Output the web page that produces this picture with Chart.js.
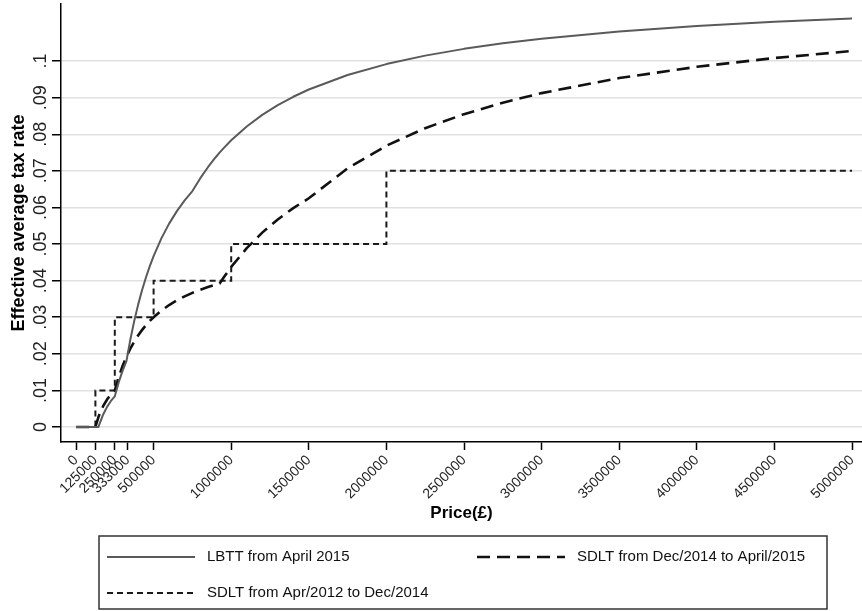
<!DOCTYPE html>
<html>
<head>
<meta charset="utf-8">
<script src="https://cdn.jsdelivr.net/npm/chart.js@4.4.1/dist/chart.umd.min.js"></script>
<style>
  html, body { margin: 0; padding: 0; background: #ffffff; }
  canvas { display: block; }
</style>
</head>
<body>
<canvas id="chart" width="862" height="611"></canvas>
<script>
// Property prices (£) at which the average rates are given
const prices = [0, 125000, 145000, 150000, 175000, 200000, 225000, 250000, 275000, 300000,
  325000, 350000, 375000, 400000, 425000, 450000, 475000, 500000, 550000, 600000, 650000,
  700000, 750000, 800000, 850000, 900000, 925000, 950000, 1000000, 1100000, 1200000, 1300000, 1400000,
  1500000, 1750000, 2000000, 2250000, 2500000, 2750000, 3000000, 3500000, 4000000, 4500000, 5000000];

// LBTT from April 2015: effective average rate
const lbttRates = [0, 0, 0, 0.000667, 0.003429, 0.0055, 0.007111, 0.0084, 0.012182, 0.015333,
  0.018, 0.023857, 0.028933, 0.033375, 0.037294, 0.040778, 0.043895, 0.0467, 0.051545, 0.055583, 0.059,
  0.061929, 0.064467, 0.067938, 0.071, 0.073722, 0.074973, 0.076158, 0.07835, 0.082136, 0.085292, 0.087962, 0.09025,
  0.092233, 0.0962, 0.099175, 0.101489, 0.10334, 0.104855, 0.106117, 0.1081, 0.109588, 0.110744, 0.11167];

// SDLT from Dec/2014 to April/2015: effective average rate
const sdlt2014Rates = [0, 0, 0.002759, 0.003333, 0.005714, 0.0075, 0.008889, 0.01, 0.013636, 0.016667,
  0.019231, 0.021429, 0.023333, 0.025, 0.026471, 0.027778, 0.028947, 0.03, 0.031818, 0.033333, 0.034615,
  0.035714, 0.036667, 0.0375, 0.038235, 0.038889, 0.039189, 0.040789, 0.04375, 0.048864, 0.053125, 0.056731, 0.059821,
  0.0625, 0.070714, 0.076875, 0.081667, 0.0855, 0.088636, 0.09125, 0.095357, 0.098438, 0.100833, 0.10275];

// SDLT from Apr/2012 to Dec/2014: slab rate reached at each threshold
const sdlt2012Thresholds = [0, 125000, 250000, 500000, 1000000, 2000000, 5000000];
const sdlt2012Rates = [0, 0.01, 0.03, 0.04, 0.05, 0.07, 0.07];

const seriesNames = ['LBTT from April 2015', 'SDLT from Dec/2014 to April/2015', 'SDLT from Apr/2012 to Dec/2014'];

const xTickValues = [0, 125000, 250000, 333000, 500000, 1000000, 1500000, 2000000, 2500000,
  3000000, 3500000, 4000000, 4500000, 5000000];
const yTickValues = [0, 0.01, 0.02, 0.03, 0.04, 0.05, 0.06, 0.07, 0.08, 0.09, 0.1];
const yTickLabels = ['0', '.01', '.02', '.03', '.04', '.05', '.06', '.07', '.08', '.09', '.1'];

const FONT = '"Liberation Sans", Arial, Helvetica, sans-serif';
Chart.defaults.font.family = FONT;

const toPoints = (xs, ys) => xs.map((x, i) => ({ x: x, y: ys[i] }));

// Boxed two-column legend under the plot
const boxLegend = {
  id: 'boxLegend',
  afterDraw(chart) {
    const ctx = chart.ctx;
    const box = { left: 99, top: 536, right: 827, bottom: 609 };
    const items = [
      { ds: 0, x: 107, y: 557 },
      { ds: 1, x: 477, y: 557 },
      { ds: 2, x: 107, y: 593 }
    ];
    const sampleLen = 88;
    ctx.save();
    ctx.strokeStyle = '#333333';
    ctx.lineWidth = 1.5;
    ctx.setLineDash([]);
    ctx.strokeRect(box.left, box.top, box.right - box.left, box.bottom - box.top);
    items.forEach(it => {
      const ds = chart.data.datasets[it.ds];
      ctx.beginPath();
      ctx.setLineDash(ds.borderDash || []);
      ctx.strokeStyle = ds.borderColor;
      ctx.lineWidth = ds.borderWidth;
      ctx.moveTo(it.x, it.y);
      ctx.lineTo(it.x + sampleLen, it.y);
      ctx.stroke();
      ctx.setLineDash([]);
      ctx.fillStyle = '#111111';
      ctx.font = '15px ' + FONT;
      ctx.textBaseline = 'middle';
      ctx.textAlign = 'left';
      ctx.fillText(ds.label, it.x + sampleLen + 12, it.y);
    });
    ctx.restore();
  }
};

new Chart(document.getElementById('chart'), {
  type: 'line',
  data: {
    datasets: [
      {
        label: seriesNames[0],
        data: toPoints(prices, lbttRates),
        borderColor: '#5a5a5a',
        borderWidth: 2,
        borderJoinStyle: 'round',
        pointRadius: 0,
        tension: 0
      },
      {
        label: seriesNames[1],
        data: toPoints(prices, sdlt2014Rates),
        borderColor: '#111111',
        borderWidth: 2.6,
        borderDash: [13, 7],
        pointRadius: 0,
        tension: 0
      },
      {
        label: seriesNames[2],
        data: toPoints(sdlt2012Thresholds, sdlt2012Rates),
        borderColor: '#1a1a1a',
        borderWidth: 2,
        borderDash: [6, 4],
        stepped: true,
        pointRadius: 0,
        tension: 0
      }
    ]
  },
  options: {
    responsive: false,
    animation: false,
    devicePixelRatio: 1,
    layout: { padding: { top: 4, left: 0, right: 0, bottom: 86 } },
    plugins: {
      legend: { display: false },
      tooltip: { enabled: false }
    },
    scales: {
      x: {
        type: 'linear',
        min: -96650,
        max: 5064400,
        afterBuildTicks: s => { s.ticks = xTickValues.map(v => ({ value: v })); },
        afterFit: s => { s.height = 83; s.paddingLeft = 0; s.paddingRight = 0; },
        ticks: {
          autoSkip: false,
          minRotation: 45,
          maxRotation: 45,
          padding: 2,
          color: '#222222',
          font: { size: 14 },
          callback: v => String(v)
        },
        grid: {
          drawOnChartArea: false,
          drawTicks: true,
          tickLength: 8,
          tickColor: '#000000',
          tickWidth: 1.5
        },
        border: { display: true, color: '#000000', width: 1.5 },
        title: {
          display: true,
          text: 'Price(£)',
          color: '#000000',
          font: { size: 17, weight: 'bold' },
          padding: { top: 0, bottom: 1 }
        }
      },
      y: {
        type: 'linear',
        min: -0.0041,
        max: 0.1156,
        afterBuildTicks: s => { s.ticks = yTickValues.map(v => ({ value: v })); },
        afterFit: s => { s.width = 61; s.paddingTop = 0; s.paddingBottom = 0; },
        ticks: {
          autoSkip: false,
          minRotation: 90,
          maxRotation: 90,
          crossAlign: 'center',
          padding: -2,
          color: '#222222',
          font: { size: 18 },
          callback: (v, i) => yTickLabels[i]
        },
        grid: {
          color: '#e1e1e1',
          lineWidth: 1.5,
          drawTicks: true,
          tickLength: 9,
          tickColor: '#000000',
          tickWidth: 1.5
        },
        border: { display: true, color: '#000000', width: 1.5 },
        title: {
          display: true,
          text: 'Effective average tax rate',
          color: '#000000',
          font: { size: 18, weight: 'bold' },
          padding: { top: 8, bottom: 0 }
        }
      }
    }
  },
  plugins: [boxLegend]
});
</script>
</body>
</html>
